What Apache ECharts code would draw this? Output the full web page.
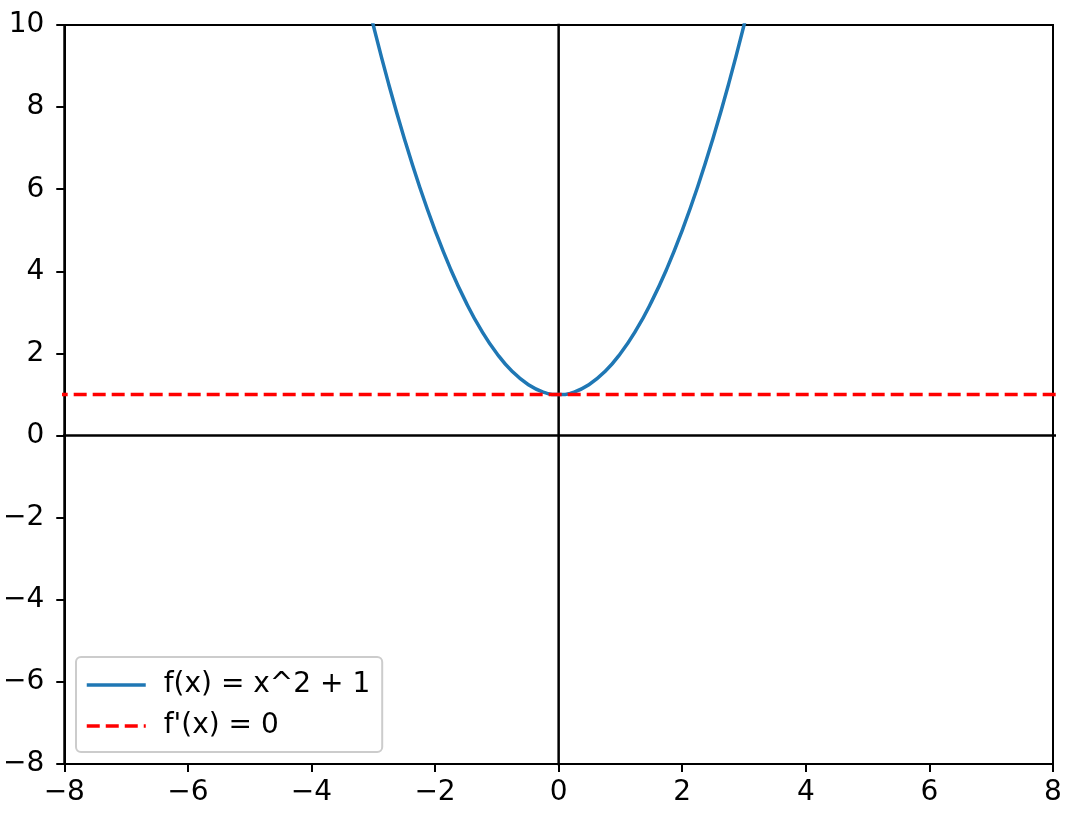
<!DOCTYPE html>
<html>
<head>
<meta charset="utf-8">
<script src="https://cdn.jsdelivr.net/npm/echarts@6/dist/echarts.min.js"></script>
<style>
  html, body { margin: 0; padding: 0; background: #fff; }
  #chart { width: 1074px; height: 818px; }
</style>
</head>
<body>
<div id="chart"></div>
<script>
// values
const curveX = [-3.25, -3, -2.75, -2.5, -2.25, -2, -1.75, -1.5, -1.25, -1, -0.75, -0.5, -0.25, 0,
                0.25, 0.5, 0.75, 1, 1.25, 1.5, 1.75, 2, 2.25, 2.5, 2.75, 3, 3.25];
const curveY = [11.56, 10, 8.56, 7.25, 6.06, 5, 4.06, 3.25, 2.56, 2, 1.56, 1.25, 1.06, 1,
                1.06, 1.25, 1.56, 2, 2.56, 3.25, 4.06, 5, 6.06, 7.25, 8.56, 10, 11.56];
const tangentX = [-10, 10];
const tangentY = [1, 1];
const hLine = [[-10, 0], [10, 0]];
const vLine = [[0, -10], [0, 12]];
const xTicks = [-8, 8, 2];
const yTicks = [-8, 10, 2];

const font = "DejaVu Sans";
const fmt = v => (v < 0 ? "\u2212" + Math.abs(v) : String(v));

let myChart = echarts.init(document.getElementById("chart"));
myChart.setOption({
    animation: false,
    grid: {
        left: 62, right: 21, top: 25, bottom: 54,
        show: true, borderColor: "#000", borderWidth: 2, backgroundColor: "#fff"
    },
    xAxis: {
        type: "value",
        min: xTicks[0], max: xTicks[1], interval: xTicks[2],
        splitLine: { show: false },
        axisLine: { onZero: false, lineStyle: { color: "#000", width: 2 } },
        axisTick: { show: true, length: 8, lineStyle: { color: "#000", width: 2 } },
        axisLabel: { color: "#000", fontSize: 28, fontFamily: font, margin: 15, formatter: fmt }
    },
    yAxis: {
        type: "value",
        min: yTicks[0], max: yTicks[1], interval: yTicks[2],
        splitLine: { show: false },
        axisLine: { onZero: false, lineStyle: { color: "#000", width: 2 } },
        axisTick: { show: true, length: 8, lineStyle: { color: "#000", width: 2 } },
        axisLabel: { color: "#000", fontSize: 28, fontFamily: font, margin: 20, formatter: fmt }
    },
    legend: {
        orient: "vertical",
        left: 76, top: 657,
        padding: [14, 12, 12, 9],
        itemGap: 13,
        itemWidth: 59, itemHeight: 14,
        borderColor: "#ccc", borderWidth: 2, borderRadius: 5,
        backgroundColor: "#fff",
        itemStyle: { opacity: 0 },
        lineStyle: { width: 3.5 },
        textStyle: { color: "#000", fontSize: 28, fontFamily: font, padding: [0, 0, 0, 13] },
        data: ["f(x) = x^2 + 1", "f'(x) = 0"]
    },
    series: [
        {
            name: "axhline", type: "line", data: hLine, symbol: "none",
            lineStyle: { color: "#000", width: 2.5 }, silent: true, z: 1
        },
        {
            name: "axvline", type: "line", data: vLine, symbol: "none",
            lineStyle: { color: "#000", width: 2.5 }, silent: true, z: 1
        },
        {
            name: "f(x) = x^2 + 1", type: "line", symbol: "none", smooth: true,
            data: curveX.map((x, i) => [x, curveY[i]]),
            lineStyle: { color: "#1f77b4", width: 3.5 }, itemStyle: { color: "#1f77b4" }, z: 3
        },
        {
            name: "f'(x) = 0", type: "line", symbol: "none",
            data: tangentX.map((x, i) => [x, tangentY[i]]),
            lineStyle: { color: "#ff0000", width: 3.5, type: [13, 6] }, itemStyle: { color: "#ff0000" }, z: 4
        }
    ]
});
</script>
</body>
</html>
